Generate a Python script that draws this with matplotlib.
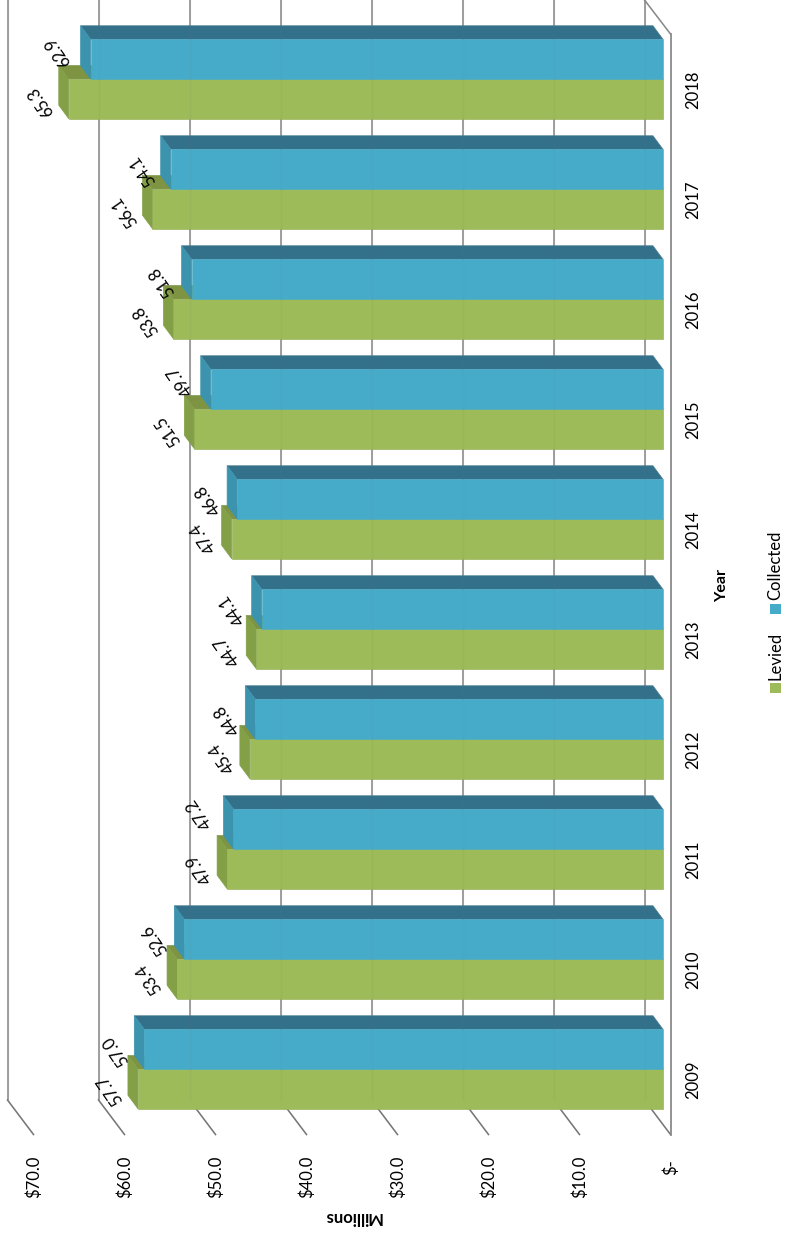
import matplotlib
matplotlib.use("Agg")
import matplotlib.pyplot as plt
from matplotlib.patches import Polygon, Rectangle

plt.rcParams['font.family'] = ['Lato', 'DejaVu Sans']

years = ['2009', '2010', '2011', '2012', '2013', '2014', '2015', '2016', '2017', '2018']
levied = [57.7, 53.4, 47.9, 45.4, 44.7, 47.4, 51.5, 53.8, 56.1, 65.3]
collected = [57.0, 52.6, 47.2, 44.8, 44.1, 46.8, 49.7, 51.8, 54.1, 62.9]
value_ticks = [0, 10, 20, 30, 40, 50, 60, 70]
value_tick_labels = ['$-', '$10.0', '$20.0', '$30.0', '$40.0', '$50.0', '$60.0', '$70.0']

# label nudges in pixels (x right, y down), from the bar's front end
levied_nudge = [(-28, 1), (-28, 0), (-28, 0), (-28, -1), (-29, 2), (-28, -1), (-27, 2), (-28, 2), (-27.5, 2.5), (-28, 3)]
collected_nudge = [(-29, 1), (-30, 0), (-34.5, -16), (-28, 0), (-29, 0), (-29, 0), (-30, -9), (-30, 2), (-28, 1.5), (-33, -8)]

W, H = 786, 1235
PX_PER_VALUE = 9.1      # horizontal pixels per million
PX_PER_CAT = 110.0      # vertical pixels per year
X0, Y0 = 663.0, 1069.0  # pixel of value 0 / centre of first group


def vx(px):
    return (X0 - px) / PX_PER_VALUE


def cy(px):
    return (Y0 - px) / PX_PER_CAT


fig = plt.figure(figsize=(W / 100, H / 100), dpi=100, facecolor='white')
ax = fig.add_axes([0, 0, 1, 1])
ax.set_xlim(vx(0), vx(W))
ax.set_ylim(cy(H), cy(0))
ax.axis('off')

GRID = '#8a8a8a'
BAR_H = 39.75 / PX_PER_CAT
DX = 10.0 / PX_PER_VALUE   # depth offset
DY = 13.5 / PX_PER_CAT
BACK_SHIFT = vx(644.5)     # back wall at value 0
FRONT_SHIFT = vx(670.5)    # front corner at value 0
Y_BACK, Y_FRONT, Y_TOP, Y_CORNER = cy(1100), cy(1134.5), cy(0), cy(34)

# walls and grid
for t in value_ticks:
    ax.plot([t + BACK_SHIFT, t + BACK_SHIFT], [Y_TOP, Y_BACK], color=GRID, lw=1.15, zorder=1, solid_capstyle='butt')
    ax.plot([t + BACK_SHIFT, t + FRONT_SHIFT], [Y_BACK, Y_FRONT], color='#777777', lw=1.15, zorder=1)
ax.plot([FRONT_SHIFT, FRONT_SHIFT], [Y_CORNER, Y_FRONT], color=GRID, lw=1.3, zorder=1)
ax.plot([BACK_SHIFT, FRONT_SHIFT], [Y_TOP, Y_CORNER], color=GRID, lw=1.15, zorder=1)

STYLES = {
    'Levied': dict(front='#9dbb59', top='#7f9443', cap='#83a047', edge='#7f9a4a', fedge='#8fab52'),
    'Collected': dict(front='#46abc8', top='#33708a', cap='#3c93ae', edge='#4f8193', fedge='#46abc8'),
}


def draw_series(values, centre_shift, name, z):
    st = STYLES[name]
    for i, v in enumerate(values):
        yc = i + centre_shift
        yt, yb = yc + BAR_H / 2, yc - BAR_H / 2
        ax.add_patch(Polygon([(0, yt), (v, yt), (v + DX, yt + DY), (DX, yt + DY)],
                             facecolor=st['top'], edgecolor=st['edge'], lw=0.5, zorder=z))
        ax.add_patch(Polygon([(v, yb), (v, yt), (v + DX, yt + DY), (v + DX, yb + DY)],
                             facecolor=st['cap'], edgecolor=st['cap'], lw=0.5, zorder=z + 0.1))
    ax.barh([i + centre_shift for i in range(len(values))], values, height=BAR_H,
            color=st['front'], edgecolor=st['fedge'], linewidth=0.4, zorder=z + 0.2)


draw_series(levied, -BAR_H / 2, 'Levied', 3)
draw_series(collected, BAR_H / 2, 'Collected', 4)

# grid showing faintly through the glassy bars
for t in value_ticks:
    ax.plot([t + BACK_SHIFT, t + BACK_SHIFT], [Y_TOP, Y_BACK], color='#777777', lw=1.0, alpha=0.07, zorder=5)

# data labels
for i in range(len(years)):
    for vals, nudges, shift in ((levied, levied_nudge, -BAR_H / 2), (collected, collected_nudge, BAR_H / 2)):
        ax.annotate(f'{vals[i]:.1f}', xy=(vals[i], i + shift),
                    xytext=(nudges[i][0], -nudges[i][1]), textcoords='offset pixels',
                    rotation=125, ha='center', va='center', fontsize=12, color='black', zorder=6)

# category labels
for i, y in enumerate(years):
    ax.text(vx(693), i + cy(1080), y, rotation=90, ha='center', va='center', fontsize=12, color='black')

# value labels
for t, lab in zip(value_ticks, value_tick_labels):
    ax.text(t + FRONT_SHIFT, cy(1167 if t == 0 else 1177), lab, rotation=90,
            ha='center', va='center', fontsize=12, color='black')

# axis titles
ax.text(vx(352), cy(1217), 'Millions', rotation=180, ha='center', va='center',
        fontsize=12, fontweight='bold', color='black')
ax.text(vx(722), cy(585), 'Year', rotation=90, ha='center', va='center',
        fontsize=11.5, fontweight='bold', color='black')

# rotated legend
for name, sq_top, text_y in (('Levied', 683, 656), ('Collected', 604, 565.5)):
    ax.add_patch(Rectangle((vx(781), cy(sq_top + 10)), vx(770) - vx(781), cy(sq_top) - cy(sq_top + 10),
                           facecolor=STYLES[name]['front'], edgecolor='none', zorder=3))
    ax.text(vx(775), cy(text_y), name, rotation=90, ha='center', va='center', fontsize=12, color='black')

fig.savefig('out.png', dpi=100, facecolor='white')
